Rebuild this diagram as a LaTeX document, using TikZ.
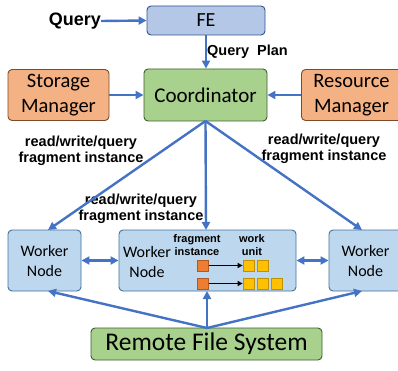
\documentclass[tikz,border=0pt]{standalone}
\usepackage{fontspec}
\setmainfont{Carlito}
\newfontfamily\arialb{Liberation Sans}[Scale=1]
\usetikzlibrary{arrows.meta}
\definecolor{arr}{HTML}{4472C4}
\definecolor{feF}{HTML}{B4C7E7}
\definecolor{feD}{HTML}{2F528F}
\definecolor{grF}{HTML}{A9D18E}
\definecolor{grD}{HTML}{3B5E2B}
\definecolor{orF}{HTML}{F4B183}
\definecolor{orD}{HTML}{7F4A2A}
\definecolor{wkF}{HTML}{BDD7EE}
\definecolor{wkD}{HTML}{41719C}
\definecolor{sqO}{HTML}{ED7D31}
\definecolor{sqOD}{HTML}{AE5A21}
\definecolor{sqY}{HTML}{FFC000}
\definecolor{sqYD}{HTML}{BF9000}
\begin{document}
\begin{tikzpicture}[x=1pt,y=-1pt,
  box/.style={draw, line width=0.9pt, rounded corners=4pt, inner sep=0pt, align=center},
  fe/.style={box, fill=feF, draw=feD},
  gr/.style={box, fill=grF, draw=grD},
  orb/.style={box, fill=orF, draw=orD},
  wk/.style={box, fill=wkF, draw=wkD},
  conn/.style={draw=arr, line width=2.4pt, -{Triangle[length=8pt,width=8pt]}},
  dconn/.style={draw=arr, line width=2.4pt, {Triangle[length=8pt,width=8pt]}-{Triangle[length=8pt,width=8pt]}},
  lbl/.style={font=\arialb\bfseries\fontsize{14.5}{16}\selectfont, align=center, inner sep=0pt},
  small/.style={font=\arialb\bfseries\fontsize{11}{13}\selectfont, align=center, inner sep=0pt},
  sqo/.style={draw=sqOD, fill=sqO, line width=0.8pt, minimum size=11pt, inner sep=0pt},
  sqy/.style={draw=sqYD, fill=sqY, line width=0.8pt, minimum size=11pt, inner sep=0pt},
  blk/.style={draw=black, line width=1.1pt, -{Triangle[length=5pt,width=5pt]}}
]
\useasboundingbox (0,0) rectangle (398,371);
\node[fe, minimum width=118pt, minimum height=29pt, font=\fontsize{20}{24}\selectfont] (fe) at (206,20.5) {FE};
\node[gr, minimum width=123pt, minimum height=52pt, font=\fontsize{21}{25}\selectfont] (co) at (205.5,95) {Coordinator};
\node[orb, minimum width=101pt, minimum height=51pt, font=\fontsize{20.5}{25}\selectfont] (sm) at (58.5,95) {Storage\\Manager};
\node[orb, minimum width=100pt, minimum height=51pt, font=\fontsize{20.5}{25}\selectfont] (rm) at (351.5,95) {Resource\\Manager};
\node[wk, minimum width=73pt, minimum height=61pt, font=\fontsize{16}{20}\selectfont] (w1) at (44.5,260.5) {Worker\\Node};
\node[wk, minimum width=177pt, minimum height=61pt] (w2) at (207.5,260.5) {};
\node[font=\fontsize{16}{19.5}\selectfont, align=center, inner sep=0pt] (w2t) at (147,262) {Worker\\Node};
\node[wk, minimum width=73pt, minimum height=61pt, font=\fontsize{16}{20}\selectfont] (w3) at (365.5,260.5) {Worker\\Node};
\node[gr, minimum width=231pt, minimum height=32pt, font=\fontsize{25.5}{30}\selectfont] (rfs) at (206.5,344) {Remote File System};

\node[lbl, font=\arialb\bfseries\fontsize{18}{20}\selectfont, anchor=east] (q) at (101,21) {Query};
\node[lbl, anchor=west] (qp) at (207,52) {Query\ \ Plan};
\node[lbl] (l1) at (81,151) {read/write/query\\fragment instance};
\node[lbl] (l2) at (324,149) {read/write/query\\fragment instance};
\node[lbl] (l3) at (141,208.5) {read/write/query\\fragment instance};

\node[small] (fi) at (197,245.5) {fragment\\instance};
\node[small] (wu) at (252,245.5) {work\\unit};

\node[sqo] (o1) at (203,265.5) {};
\node[sqo] (o2) at (203,283.5) {};
\node[sqy] (y11) at (248.5,265.5) {};
\node[sqy] (y12) at (262.5,265.5) {};
\node[sqy] (y21) at (248.5,283.5) {};
\node[sqy] (y22) at (262.5,283.5) {};
\node[sqy] (y23) at (276.5,283.5) {};
\draw[blk] (o1.east) -- (y11.west);
\draw[blk] (o2.east) -- (y21.west);

\coordinate (cb) at (205.5,121);
\coordinate (rt) at (207,328);
\draw[conn] (q.east) -- (fe.west);
\draw[conn] (fe.south -| 206,0) -- (co.north -| 206,0);
\draw[conn] (sm.east) -- (co.west);
\draw[conn] (rm.west) -- (co.east);
\draw[conn] (cb) -- (48,230);
\draw[conn] (cb) -- (206,230);
\draw[conn] (cb) -- (362,230);
\draw[dconn] (w1.east) -- (w2.west);
\draw[dconn] (w2.east) -- (w3.west);
\draw[conn] (rt) -- (48,291);
\draw[conn] (rt) -- (207,291);
\draw[conn] (rt) -- (362,291);
\end{tikzpicture}
\end{document}
